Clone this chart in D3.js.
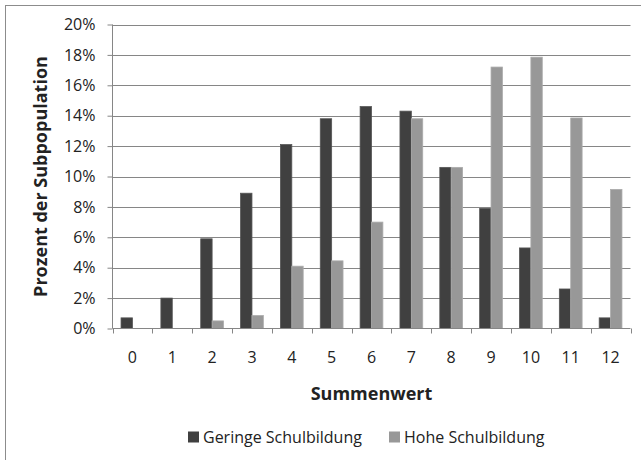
<!DOCTYPE html>
<html>
<head>
<meta charset="utf-8">
<script src="https://cdn.jsdelivr.net/npm/d3@7"></script>
<style>
  body { margin: 0; background: #fff; }
  svg { display: block; font-family: "Open Sans", "Noto Sans", sans-serif; }
</style>
</head>
<body>
<svg id="chart" width="641" height="460"></svg>
<script>
// Data
const categories = ["0", "1", "2", "3", "4", "5", "6", "7", "8", "9", "10", "11", "12"];
const seriesNames = ["Geringe Schulbildung", "Hohe Schulbildung"];
const geringe = [0.7, 2.0, 5.9, 8.9, 12.1, 13.8, 14.6, 14.3, 10.6, 7.9, 5.3, 2.6, 0.7];
const hohe = [0, 0, 0.5, 0.85, 4.1, 4.45, 7.0, 13.8, 10.6, 17.2, 17.85, 13.85, 9.15];
const yTicks = [0, 2, 4, 6, 8, 10, 12, 14, 16, 18, 20];

const colors = ["#404040", "#989898"];
const strokes = ["#555555", "#ababab"];

const svg = d3.select("#chart");
const margin = { left: 112.5, right: 10.5, top: 24.5, bottom: 131.5 };
const width = 641, height = 460;

// chart frame (cut off at right and bottom, like the reference)
svg.append("rect")
  .attr("x", 5.5).attr("y", 5.5)
  .attr("width", 700).attr("height", 500)
  .attr("fill", "none").attr("stroke", "#8c8c8c").attr("stroke-width", 1);

const x = d3.scaleBand()
  .domain(categories)
  .range([margin.left, width - margin.right]);

// Excel default gap width 150%: two bars of width w plus 1.5w gap
const barW = x.bandwidth() / 3.5;
const inner = d3.scaleBand()
  .domain(seriesNames)
  .range([barW * 0.75, barW * 2.75]);

const y = d3.scaleLinear()
  .domain([0, 20])
  .range([height - margin.bottom, margin.top]);

// gridlines
svg.append("g")
  .selectAll("line")
  .data(yTicks.filter(d => d > 0))
  .join("line")
  .attr("x1", margin.left).attr("x2", width - margin.right)
  .attr("y1", d => Math.round(y(d)) + 0.5).attr("y2", d => Math.round(y(d)) + 0.5)
  .attr("stroke", "#868686");

// bars
const groups = svg.append("g")
  .selectAll("g")
  .data(categories)
  .join("g")
  .attr("transform", d => `translate(${x(d)},0)`);

const seriesValues = [geringe, hohe];
groups.selectAll("rect")
  .data((d, i) => seriesNames.map((s, j) => ({ s, j, v: seriesValues[j][i] })))
  .join("rect")
  .filter(d => d.v > 0)
  .attr("x", d => inner(d.s))
  .attr("width", inner.bandwidth())
  .attr("y", d => y(d.v))
  .attr("height", d => y(0) - y(d.v))
  .attr("fill", d => colors[d.j])
  .attr("stroke", d => strokes[d.j])
  .attr("stroke-width", 0.8);

// y axis
const yAxis = svg.append("g")
  .attr("transform", `translate(${margin.left},0)`)
  .call(d3.axisLeft(y).tickValues(yTicks).tickFormat(d => d + "%").tickSize(5).tickPadding(12));
yAxis.select(".domain").attr("stroke", "#868686").attr("d", `M0,${y(0)}V${y(20)}`);
yAxis.selectAll(".tick line").attr("stroke", "#868686");
yAxis.selectAll(".tick text").attr("font-size", 16).attr("fill", "#222")
  .attr("font-family", "'Open Sans', sans-serif");

// x axis with ticks at band boundaries
const xAxis = svg.append("g")
  .attr("transform", `translate(0,${y(0)})`);
xAxis.append("line")
  .attr("x1", margin.left).attr("x2", width - margin.right)
  .attr("stroke", "#868686");
xAxis.selectAll(".bt")
  .data(categories.concat(["end"]))
  .join("line")
  .attr("class", "bt")
  .attr("x1", (d, i) => Math.round(margin.left + i * x.step()) + 0.5)
  .attr("x2", (d, i) => Math.round(margin.left + i * x.step()) + 0.5)
  .attr("y1", 0).attr("y2", 5)
  .attr("stroke", "#868686");
xAxis.selectAll("text")
  .data(categories)
  .join("text")
  .attr("x", d => x(d) + x.bandwidth() / 2)
  .attr("y", 34.5)
  .attr("text-anchor", "middle")
  .attr("font-size", 16)
  .attr("fill", "#222")
  .text(d => d);

// axis titles
svg.append("text")
  .attr("x", (margin.left + width - margin.right) / 2)
  .attr("y", 400)
  .attr("text-anchor", "middle")
  .attr("font-size", 18)
  .attr("font-weight", "bold")
  .attr("fill", "#222")
  .text("Summenwert");

svg.append("text")
  .attr("transform", `translate(47,${(y(0) + y(20)) / 2}) rotate(-90)`)
  .attr("text-anchor", "middle")
  .attr("font-size", 18)
  .attr("font-weight", "bold")
  .attr("fill", "#222")
  .text("Prozent der Subpopulation");

// legend
const legendX = [188, 389];
const legend = svg.append("g")
  .selectAll("g")
  .data(seriesNames)
  .join("g")
  .attr("transform", (d, i) => `translate(${legendX[i]},437)`);
legend.append("rect")
  .attr("x", 0).attr("y", -5.5)
  .attr("width", 11).attr("height", 11)
  .attr("fill", (d, i) => colors[i]);
legend.append("text")
  .attr("x", 15).attr("y", 6)
  .attr("font-size", 16)
  .attr("fill", "#222")
  .text(d => d);
</script>
</body>
</html>
